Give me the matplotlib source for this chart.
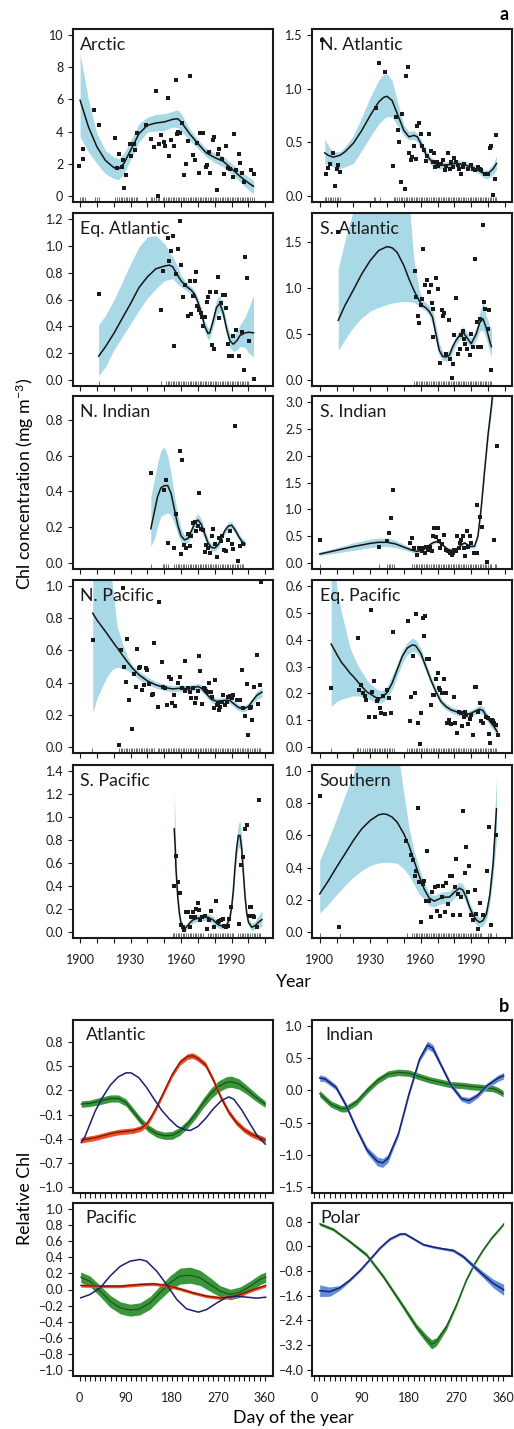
import numpy as np
import matplotlib
matplotlib.use("Agg")
import matplotlib.pyplot as plt

plt.rcParams['font.family'] = ['Lato', 'DejaVu Sans']
plt.rcParams['mathtext.default'] = 'regular'
plt.rcParams['axes.unicode_minus'] = True

# ---------------- Panel a data ----------------
ARC_YR = [1900, 1905, 1910, 1915, 1920, 1923, 1926, 1930, 1935, 1940, 1945, 1950, 1955, 1958, 1960, 1965, 1970, 1975, 1980, 1985, 1990, 1995, 2000, 2003]
ARC_FIT = [5.95, 4.28, 3.04, 2.20, 1.75, 1.68, 2.00, 2.83, 3.87, 4.39, 4.53, 4.60, 4.76, 4.80, 4.60, 3.87, 3.24, 2.66, 2.37, 2.14, 1.68, 1.20, 0.79, 0.58]
ARC_HI = [8.86, 5.95, 3.87, 2.83, 2.41, 2.30, 2.62, 3.45, 4.49, 4.90, 5.07, 5.11, 5.26, 5.36, 5.11, 4.18, 3.49, 2.93, 2.66, 2.45, 2.00, 1.54, 1.16, 0.96]
ARC_LO = [3.66, 2.72, 2.00, 1.37, 1.06, 1.00, 1.37, 2.25, 3.35, 3.97, 4.03, 4.07, 4.28, 4.24, 4.03, 3.45, 2.93, 2.41, 2.06, 1.79, 1.37, 0.85, 0.37, 0.12]
ARC_PX = [1899.4, 1901.6, 1902, 1908.5, 1911.2, 1920.7, 1921.7, 1923.2, 1924.6, 1925.2, 1926, 1927.2, 1929.5, 1930.5, 1931.9, 1932.9, 1934, 1939.4, 1942.3, 1943.9, 1944.9, 1946.3, 1946.9, 1948.3, 1949.8, 1950.6, 1952.2, 1952.8, 1954.2, 1955.5, 1956.7, 1957.5, 1958.3, 1959.2, 1960.7, 1962, 1963, 1964.2, 1965.4, 1967, 1968.5, 1969.5, 1970.9, 1971.5, 1972.9, 1974.5, 1975.4, 1976.4, 1977.4, 1978.8, 1979.8, 1981.2, 1981.7, 1982.7, 1984.3, 1985.7, 1986.7, 1987.6, 1989.2, 1990.6, 1991.6, 1992.6, 1994.2, 1994.9, 1996.1, 1997.5, 2001.8, 2003]
ARC_PY = [1.83, 2.31, 2.93, 5.32, 4.39, 3.62, 1.75, 2.58, 1.79, 2.25, 0.5, 1.27, 3.2, 2.45, 3.2, 2.87, 3.93, 4.39, 3.56, 3.04, 6.5, 0.0, 3.2, 3.8, 3.35, 3.08, 6.11, 2.49, 3.45, 3.12, 7.19, 3.85, 3.95, 3.90, 4.55, 1.27, 2.0, 3.39, 7.48, 2.56, 2.2, 3.3, 1.43, 3.93, 3.93, 1.79, 1.93, 2.72, 1.43, 3.49, 3.66, 0.37, 2.58, 2.93, 2.31, 1.33, 3.1, 1.75, 1.68, 1.16, 3.87, 1.62, 2.58, 2.06, 1.41, 0.85, 1.62, 1.37]
ARC_RUG = [1900, 1901, 1902, 1903, 1909, 1910, 1911] + list(range(1921, 1935)) + [1939] + list(range(1942, 1948)) + list(range(1949, 2004))

NAT_YR = [1903, 1905, 1908, 1912, 1915, 1920, 1925, 1930, 1935, 1938, 1940, 1943, 1946, 1950, 1953, 1956, 1958, 1960, 1963, 1966, 1970, 1975, 1980, 1985, 1990, 1995, 1998, 2000, 2003, 2005]
NAT_FIT = [0.40, 0.377, 0.36, 0.377, 0.41, 0.49, 0.61, 0.75, 0.876, 0.92, 0.93, 0.89, 0.77, 0.61, 0.55, 0.564, 0.55, 0.49, 0.39, 0.33, 0.284, 0.284, 0.30, 0.293, 0.268, 0.23, 0.20, 0.206, 0.25, 0.30]
NAT_HI = [0.533, 0.47, 0.41, 0.41, 0.455, 0.564, 0.736, 0.92, 1.08, 1.135, 1.14, 1.08, 0.89, 0.66, 0.60, 0.61, 0.58, 0.533, 0.43, 0.36, 0.32, 0.315, 0.33, 0.325, 0.30, 0.27, 0.24, 0.243, 0.30, 0.37]
NAT_LO = [0.30, 0.29, 0.27, 0.25, 0.27, 0.30, 0.424, 0.55, 0.67, 0.72, 0.74, 0.736, 0.66, 0.564, 0.52, 0.525, 0.50, 0.44, 0.355, 0.29, 0.25, 0.25, 0.27, 0.26, 0.24, 0.20, 0.16, 0.16, 0.20, 0.24]
NAT_PX = [1901.6, 1903.5, 1905, 1906, 1908, 1909, 1910, 1911, 1912, 1933.7, 1935, 1938.5, 1943.5, 1945.5, 1946.5, 1947, 1948, 1949, 1950.5, 1951, 1952.4, 1953, 1954, 1955, 1956, 1957, 1958, 1959, 1960, 1961, 1962, 1963, 1964, 1965, 1966, 1967, 1968, 1968.6, 1969.5, 1970.5, 1972, 1973, 1974.5, 1975.3, 1976.3, 1977.3, 1978, 1979, 1980, 1981, 1982, 1983, 1984, 1985, 1986, 1988, 1990, 1991, 1992.5, 1994, 1995, 1996, 1998, 2000, 2001, 2002, 2003, 2004, 2005]
NAT_PY = [1.46, 0.2, 0.26, 0.30, 0.40, 0.09, 0.25, 0.29, 0.22, 0.82, 1.24, 1.16, 0.28, 0.74, 0.61, 0.50, 0.13, 0.76, 0.065, 1.12, 1.20, 0.40, 0.33, 0.36, 0.46, 0.34, 0.65, 0.68, 0.58, 0.46, 0.43, 0.32, 0.37, 0.58, 0.42, 0.31, 0.40, 0.27, 0.31, 0.28, 0.30, 0.33, 0.24, 0.28, 0.40, 0.25, 0.31, 0.27, 0.35, 0.31, 0.29, 0.25, 0.20, 0.27, 0.30, 0.25, 0.29, 0.25, 0.24, 0.27, 0.25, 0.24, 0.20, 0.20, 0.45, 0.46, 0.01, 0.16, 0.57]
NAT_RUG = list(range(1903, 1913)) + [1932, 1933, 1936] + list(range(1944, 2006))

EQA_YR = [1911, 1915, 1920, 1925, 1930, 1935, 1940, 1945, 1950, 1953, 1955, 1958, 1960, 1963, 1966, 1968, 1970, 1972, 1974, 1976, 1977, 1979, 1981, 1983, 1985, 1987, 1989, 1991, 1993, 1995, 1998, 2000, 2003]
EQA_FIT = [0.175, 0.245, 0.345, 0.458, 0.57, 0.69, 0.77, 0.83, 0.85, 0.858, 0.845, 0.78, 0.74, 0.70, 0.67, 0.64, 0.58, 0.50, 0.40, 0.345, 0.35, 0.44, 0.54, 0.57, 0.50, 0.38, 0.29, 0.265, 0.29, 0.33, 0.35, 0.355, 0.35]
EQA_HI = [0.41, 0.48, 0.595, 0.73, 0.87, 0.995, 1.07, 1.08, 1.02, 0.96, 0.92, 0.845, 0.78, 0.73, 0.695, 0.67, 0.61, 0.54, 0.44, 0.39, 0.39, 0.49, 0.60, 0.63, 0.55, 0.43, 0.34, 0.32, 0.36, 0.41, 0.47, 0.53, 0.63]
EQA_LO = [0.03, 0.095, 0.22, 0.32, 0.42, 0.52, 0.61, 0.68, 0.74, 0.75, 0.757, 0.715, 0.695, 0.67, 0.64, 0.61, 0.54, 0.46, 0.36, 0.30, 0.31, 0.39, 0.48, 0.51, 0.45, 0.33, 0.24, 0.21, 0.22, 0.25, 0.24, 0.20, 0.17]
EQA_PX = [1911.2, 1948.3, 1949.2, 1952.2, 1952.8, 1954, 1955.2, 1955.7, 1956.7, 1958.1, 1959.3, 1960, 1960.9, 1962.4, 1963.8, 1965, 1965.8, 1967, 1968, 1968.7, 1969.7, 1970.7, 1971.7, 1972.3, 1973, 1973.9, 1975.2, 1975.8, 1977, 1978.2, 1979.8, 1981, 1981.7, 1982.7, 1983.5, 1984.7, 1985.9, 1986.9, 1987.7, 1988.6, 1990, 1990.6, 1992.6, 1994.5, 1996.1, 1997.5, 1997.9, 1998.9, 2000.3, 2003]
EQA_PY = [0.64, 0.52, 0.815, 1.06, 0.89, 0.96, 1.075, 0.255, 0.79, 0.98, 1.19, 0.855, 0.62, 0.705, 0.48, 0.74, 0.495, 0.625, 0.74, 0.805, 0.555, 0.525, 0.50, 0.47, 0.40, 0.468, 0.58, 0.62, 0.655, 0.258, 0.232, 0.655, 0.765, 0.463, 0.575, 0.63, 0.63, 0.535, 0.27, 0.175, 0.175, 0.33, 0.368, 0.175, 0.358, 0.07, 0.915, 0.758, 0.288, 0.008]
EQA_RUG = [1911, 1948] + list(range(1951, 2001))

SAT_YR = [1911, 1915, 1920, 1925, 1930, 1935, 1940, 1943, 1946, 1950, 1953, 1956, 1959, 1961, 1963, 1965, 1967, 1969, 1971, 1973, 1975, 1977, 1979, 1981, 1983, 1985, 1987, 1990, 1993, 1995, 1997, 1999, 2001, 2002]
SAT_FIT = [0.647, 0.81, 0.98, 1.155, 1.30, 1.41, 1.453, 1.44, 1.39, 1.246, 1.10, 0.973, 0.865, 0.81, 0.785, 0.748, 0.683, 0.50, 0.32, 0.254, 0.247, 0.265, 0.36, 0.43, 0.48, 0.52, 0.47, 0.392, 0.50, 0.62, 0.665, 0.56, 0.42, 0.36]
SAT_HI = [1.21, 1.52, 1.85, 2.3, 2.6, 2.8, 2.9, 2.8, 2.6, 2.3, 1.95, 1.30, 0.99, 0.88, 0.84, 0.81, 0.77, 0.60, 0.40, 0.31, 0.30, 0.32, 0.40, 0.48, 0.53, 0.58, 0.53, 0.45, 0.57, 0.72, 0.865, 0.70, 0.58, 0.57]
SAT_LO = [0.32, 0.436, 0.574, 0.676, 0.748, 0.79, 0.82, 0.835, 0.846, 0.854, 0.85, 0.846, 0.80, 0.774, 0.748, 0.70, 0.60, 0.40, 0.265, 0.21, 0.203, 0.22, 0.30, 0.38, 0.43, 0.465, 0.41, 0.34, 0.43, 0.53, 0.54, 0.44, 0.30, 0.25]
SAT_PX = [1911, 1956.4, 1957.1, 1958.3, 1959.1, 1960, 1961, 1961.4, 1962.6, 1964, 1965, 1966, 1966.5, 1967, 1967.5, 1969, 1970, 1971.4, 1972.4, 1973.2, 1973.8, 1975.3, 1976.7, 1977.3, 1978.3, 1979.3, 1980, 1981.2, 1982.2, 1983.2, 1984.1, 1985.1, 1985.7, 1986.5, 1987.7, 1989, 1990, 1991, 1992.4, 1993.3, 1994.3, 1995.3, 1995.9, 1996.9, 1997.5, 1998.2, 1999.8, 2000.8, 2001.8]
SAT_PY = [1.61, 1.19, 0.90, 0.70, 0.617, 0.81, 0.883, 1.43, 1.028, 1.09, 0.955, 1.028, 0.835, 0.465, 0.774, 1.11, 0.99, 0.18, 0.755, 0.69, 0.726, 0.276, 0.647, 0.229, 0.022, 0.174, 0.483, 0.894, 0.283, 0.338, 0.483, 0.53, 0.447, 0.392, 0.338, 0.265, 0.50, 0.356, 1.32, 0.628, 0.356, 0.665, 0.356, 1.69, 0.846, 0.774, 0.556, 0.763, 0.109]
SAT_RUG = list(range(1956, 2003))

NIN_YR = [1942, 1944, 1946, 1948, 1950, 1952, 1954, 1956, 1958, 1960, 1962, 1964, 1966, 1968, 1970, 1972, 1974, 1976, 1978, 1980, 1982, 1984, 1986, 1988, 1990, 1992, 1994, 1996, 1998]
NIN_FIT = [0.19, 0.28, 0.37, 0.42, 0.432, 0.433, 0.39, 0.30, 0.21, 0.15, 0.128, 0.135, 0.175, 0.22, 0.24, 0.215, 0.16, 0.11, 0.085, 0.082, 0.10, 0.14, 0.18, 0.205, 0.21, 0.185, 0.15, 0.12, 0.105]
NIN_HI = [0.37, 0.46, 0.56, 0.63, 0.65, 0.60, 0.50, 0.38, 0.27, 0.19, 0.155, 0.16, 0.20, 0.25, 0.275, 0.245, 0.19, 0.135, 0.105, 0.10, 0.12, 0.16, 0.20, 0.225, 0.23, 0.205, 0.17, 0.14, 0.125]
NIN_LO = [0.09, 0.13, 0.20, 0.26, 0.27, 0.28, 0.27, 0.22, 0.16, 0.115, 0.105, 0.11, 0.15, 0.19, 0.205, 0.185, 0.135, 0.09, 0.065, 0.065, 0.08, 0.12, 0.16, 0.185, 0.19, 0.165, 0.13, 0.10, 0.085]
NIN_PX = [1942.3, 1949.8, 1950.8, 1952.2, 1955.5, 1956.7, 1959.1, 1959.7, 1960.7, 1962, 1963, 1964, 1965, 1966, 1967, 1968, 1968.9, 1969.9, 1970.9, 1971.9, 1972.9, 1973.9, 1974.8, 1975.8, 1977.2, 1978.4, 1978.8, 1980.4, 1981.3, 1982.3, 1983.7, 1984.3, 1985.7, 1986.7, 1988, 1989, 1990, 1990.6, 1992, 1994, 1995, 1997]
NIN_PY = [0.504, 0.41, 0.466, 0.11, 0.082, 0.275, 0.626, 0.05, 0.579, 0.10, 0.082, 0.161, 0.092, 0.148, 0.223, 0.227, 0.176, 0.204, 0.392, 0.189, 0.185, 0.058, 0.10, 0.082, 0.054, 0.152, 0.189, 0.107, 0.032, 0.139, 0.12, 0.148, 0.073, 0.064, 0.129, 0.176, 0.107, 0.077, 0.766, 0.011, 0.092, 0.107]
NIN_RUG = [1942, 1949, 1950, 1951, 1952] + list(range(1956, 1998))

SIN_YR = [1900, 1910, 1920, 1930, 1935, 1940, 1945, 1950, 1955, 1958, 1961, 1964, 1967, 1970, 1973, 1976, 1979, 1982, 1984, 1986, 1988, 1990, 1992, 1994, 1996, 1998, 2000, 2002, 2004]
SIN_FIT = [0.16, 0.23, 0.30, 0.36, 0.38, 0.38, 0.35, 0.29, 0.23, 0.21, 0.24, 0.30, 0.37, 0.40, 0.33, 0.25, 0.22, 0.27, 0.33, 0.37, 0.33, 0.30, 0.31, 0.50, 1.05, 1.74, 2.40, 2.93, 3.6]
SIN_HI = [0.20, 0.28, 0.37, 0.44, 0.46, 0.46, 0.42, 0.34, 0.27, 0.25, 0.27, 0.33, 0.40, 0.43, 0.36, 0.28, 0.25, 0.30, 0.36, 0.40, 0.36, 0.33, 0.35, 0.56, 1.12, 1.82, 2.5, 3.05, 3.8]
SIN_LO = [0.13, 0.18, 0.23, 0.28, 0.30, 0.30, 0.28, 0.24, 0.19, 0.17, 0.21, 0.27, 0.34, 0.37, 0.30, 0.22, 0.19, 0.24, 0.30, 0.34, 0.30, 0.27, 0.27, 0.44, 0.98, 1.66, 2.30, 2.81, 3.4]
SIN_PX = [1900, 1935.2, 1940.1, 1941.2, 1942.5, 1943.7, 1953.8, 1954.8, 1955.8, 1957.7, 1959, 1960.5, 1961.5, 1962.4, 1963.4, 1964.4, 1965.4, 1966.5, 1967.5, 1968, 1968.9, 1970, 1970.8, 1971.6, 1972.4, 1973.8, 1975, 1976, 1977.3, 1978.3, 1979.3, 1979.9, 1980.7, 1981.6, 1982.6, 1983.6, 1984.1, 1985.1, 1985.7, 1986.5, 1987.5, 1988, 1989, 1990, 1991.6, 1993.5, 1993.7, 1995.1, 1996.3, 1999.4, 2003.3, 2005.6]
SIN_PY = [0.43, 0.29, 0.40, 0.555, 0.836, 1.366, 0.368, 0.46, 0.27, 0.15, 0.27, 0.21, 0.27, 0.18, 0.30, 0.24, 0.29, 0.21, 0.49, 0.65, 0.48, 0.65, 0.40, 0.27, 0.34, 0.52, 0.24, 0.21, 0.18, 0.15, 0.18, 0.24, 0.21, 0.49, 0.27, 0.37, 0.43, 0.49, 0.27, 0.13, 0.586, 0.30, 0.49, 0.37, 0.18, 0.18, 1.08, 0.86, 0.67, 0.02, 0.43, 2.19]
SIN_RUG = [1900, 1935, 1940, 1941, 1942, 1943, 1944] + list(range(1955, 2003)) + [2004, 2005]

NPA_YR = [1907.5, 1910, 1913, 1916, 1919, 1922, 1925, 1928, 1931, 1935, 1940, 1945, 1950, 1955, 1960, 1963, 1966, 1970, 1972, 1975, 1978, 1981, 1984, 1987, 1989, 1991, 1994, 1997, 2000, 2002, 2005, 2008]
NPA_FIT = [0.833, 0.79, 0.748, 0.705, 0.66, 0.617, 0.573, 0.53, 0.49, 0.448, 0.41, 0.385, 0.369, 0.36, 0.365, 0.362, 0.365, 0.375, 0.365, 0.33, 0.295, 0.283, 0.285, 0.29, 0.288, 0.27, 0.245, 0.235, 0.25, 0.28, 0.32, 0.34]
NPA_HI = [1.6, 1.5, 1.35, 1.2, 1.03, 0.75, 0.65, 0.565, 0.51, 0.47, 0.435, 0.405, 0.39, 0.38, 0.385, 0.382, 0.385, 0.395, 0.385, 0.35, 0.315, 0.303, 0.305, 0.31, 0.308, 0.29, 0.265, 0.255, 0.27, 0.30, 0.345, 0.37]
NPA_LO = [0.2125, 0.30, 0.37, 0.4375, 0.48, 0.495, 0.49, 0.475, 0.455, 0.42, 0.385, 0.365, 0.35, 0.34, 0.345, 0.342, 0.345, 0.355, 0.345, 0.31, 0.275, 0.263, 0.265, 0.27, 0.268, 0.25, 0.225, 0.215, 0.23, 0.26, 0.295, 0.31]
NPA_PX = [1907.5, 1923.2, 1924.2, 1925.2, 1926.2, 1927.2, 1928, 1929.2, 1931.1, 1932.1, 1933.1, 1933.9, 1935, 1935.8, 1937, 1938, 1939, 1940, 1941, 1942.5, 1943.3, 1943.9, 1946.3, 1946.9, 1948.8, 1949.2, 1950.6, 1951.8, 1952.8, 1953.8, 1954.8, 1955.7, 1956.1, 1958.1, 1959.1, 1960.5, 1962.4, 1962.6, 1964, 1965, 1966, 1967, 1968, 1969, 1970, 1970.9, 1971.5, 1972.3, 1973.5, 1974.3, 1974.9, 1975.9, 1976.8, 1977.8, 1978.4, 1979.4, 1980.4, 1981.2, 1982, 1982.7, 1983.3, 1984.3, 1985.1, 1986.3, 1987, 1988, 1989, 1990, 1991, 1993, 1994, 1995, 1996, 1996.9, 1997.9, 1998.9, 1999.9, 2000.8, 2001.4, 2002.4, 2003.4, 2004.8, 2005.8, 2006.8, 2007.7]
NPA_PY = [0.667, 0.01, 0.60, 0.988, 0.496, 0.402, 0.671, 0.292, 0.108, 0.452, 0.371, 0.608, 0.49, 0.50, 0.354, 0.385, 0.49, 0.479, 0.392, 0.323, 0.327, 0.646, 0.25, 0.902, 0.531, 0.369, 0.365, 0.26, 0.433, 0.421, 0.271, 0.323, 0.254, 0.396, 0.433, 0.365, 0.35, 0.535, 0.365, 0.338, 0.302, 0.365, 0.275, 0.302, 0.344, 0.567, 0.469, 0.267, 0.365, 0.358, 0.35, 0.340, 0.40, 0.338, 0.308, 0.24, 0.417, 0.26, 0.271, 0.229, 0.25, 0.281, 0.323, 0.26, 0.281, 0.308, 0.313, 0.302, 0.323, 0.292, 0.288, 0.292, 0.479, 0.24, 0.194, 0.39, 0.073, 0.244, 0.25, 0.167, 0.371, 0.573, 0.265, 0.385, 1.03]
NPA_RUG = [1907] + list(range(1923, 1945)) + list(range(1946, 2008))

EQP_YR = [1906.8, 1910, 1913, 1915, 1918, 1920, 1923, 1925, 1928, 1930, 1933, 1935, 1937, 1940, 1943, 1946, 1949, 1952, 1955, 1957, 1960, 1963, 1966, 1969, 1972, 1975, 1978, 1981, 1984, 1987, 1990, 1993, 1995, 1997, 1999, 2001, 2003, 2005.5]
EQP_FIT = [0.384, 0.3475, 0.315, 0.30, 0.275, 0.2625, 0.24, 0.225, 0.205, 0.1975, 0.185, 0.181, 0.184, 0.2025, 0.2375, 0.2875, 0.3375, 0.369, 0.381, 0.378, 0.35, 0.30, 0.25, 0.206, 0.169, 0.15, 0.1375, 0.131, 0.125, 0.12, 0.125, 0.135, 0.14, 0.135, 0.115, 0.095, 0.08, 0.055]
EQP_HI = [0.9, 0.6, 0.50, 0.45, 0.37, 0.34, 0.30, 0.28, 0.25, 0.235, 0.22, 0.212, 0.21, 0.225, 0.265, 0.31, 0.36, 0.39, 0.406, 0.40, 0.369, 0.318, 0.266, 0.22, 0.182, 0.162, 0.149, 0.143, 0.137, 0.132, 0.137, 0.148, 0.155, 0.15, 0.13, 0.11, 0.097, 0.075]
EQP_LO = [0.15, 0.169, 0.178, 0.181, 0.187, 0.19, 0.189, 0.1875, 0.181, 0.175, 0.167, 0.1625, 0.165, 0.181, 0.213, 0.262, 0.312, 0.344, 0.356, 0.355, 0.33, 0.282, 0.234, 0.192, 0.156, 0.138, 0.126, 0.119, 0.113, 0.108, 0.113, 0.122, 0.125, 0.12, 0.10, 0.08, 0.063, 0.035]
EQP_PX = [1906.5, 1922.5, 1923.5, 1924.5, 1925.8, 1926.8, 1927.4, 1929.4, 1930.3, 1931.3, 1932.3, 1932.9, 1933.9, 1934.7, 1935.6, 1936.6, 1937.6, 1938.6, 1940.1, 1941.1, 1942.5, 1943.6, 1952.4, 1953.8, 1954.4, 1955.4, 1956.4, 1957.1, 1958.3, 1959.5, 1960.3, 1961.1, 1962.2, 1962.6, 1963.6, 1965, 1966.1, 1967.1, 1968.1, 1969.1, 1970, 1970.8, 1971.4, 1972.4, 1973.8, 1974.8, 1975.7, 1976.7, 1977.9, 1979.6, 1980.6, 1981.8, 1982.8, 1983.8, 1984.5, 1985.5, 1986.1, 1987.1, 1988, 1989, 1990, 1991, 1992, 1993, 1994, 1995, 1996, 1997, 1998.8, 1999.8, 2000.8, 2001.4, 2002.2, 2003.1, 2003.7, 2004.7, 2005.7]
EQP_PY = [0.219, 0.406, 0.2125, 0.231, 0.20, 0.19, 0.175, 0.1125, 0.51, 0.206, 0.244, 0.1125, 0.1725, 0.178, 0.144, 0.1275, 0.19, 0.1225, 0.2125, 0.181, 0.125, 0.431, 0.471, 0.094, 0.185, 0.34, 0.2025, 0.496, 0.09, 0.01, 0.125, 0.481, 0.4125, 0.4875, 0.3275, 0.3275, 0.156, 0.194, 0.194, 0.2525, 0.2775, 0.219, 0.2125, 0.2025, 0.2525, 0.2025, 0.09, 0.10, 0.085, 0.185, 0.0875, 0.05, 0.131, 0.125, 0.0775, 0.1125, 0.131, 0.119, 0.085, 0.1025, 0.119, 0.044, 0.225, 0.225, 0.131, 0.1625, 0.0975, 0.088, 0.1125, 0.106, 0.0475, 0.0125, 0.10, 0.094, 0.088, 0.081, 0.044]
EQP_RUG = [1907, 1922, 1923, 1924] + list(range(1926, 1945)) + list(range(1952, 2006))

SPA_YR = [1955.9, 1956.5, 1957, 1958, 1959, 1960, 1961, 1962, 1963, 1965, 1967, 1970, 1973, 1976, 1979, 1982, 1985, 1987, 1989, 1990, 1991, 1992, 1993, 1994, 1995, 1996, 1997, 1998, 1999, 2000, 2002, 2004, 2006, 2008]
SPA_FIT = [0.898, 0.738, 0.534, 0.30, 0.155, 0.067, 0.038, 0.023, 0.038, 0.073, 0.102, 0.117, 0.125, 0.125, 0.102, 0.061, 0.044, 0.0525, 0.125, 0.213, 0.359, 0.563, 0.732, 0.84, 0.84, 0.723, 0.505, 0.30, 0.155, 0.082, 0.038, 0.0525, 0.082, 0.105]
SPA_HI = [1.25, 0.94, 0.65, 0.373, 0.198, 0.102, 0.067, 0.05, 0.061, 0.102, 0.14, 0.146, 0.155, 0.155, 0.135, 0.085, 0.067, 0.075, 0.155, 0.248, 0.417, 0.621, 0.82, 0.942, 0.97, 0.84, 0.59, 0.344, 0.19, 0.11, 0.073, 0.09, 0.14, 0.184]
SPA_LO = [0.563, 0.534, 0.417, 0.227, 0.11, 0.038, 0.009, 0.0, 0.015, 0.05, 0.073, 0.09, 0.096, 0.096, 0.067, 0.032, 0.02, 0.03, 0.096, 0.178, 0.30, 0.49, 0.65, 0.738, 0.723, 0.607, 0.417, 0.248, 0.12, 0.0525, 0.009, 0.023, 0.038, 0.044]
SPA_PX = [1955.5, 1956.7, 1958.1, 1959.3, 1960, 1961, 1962, 1963, 1964, 1965, 1966, 1967, 1968, 1968.9, 1969.9, 1970.9, 1971.5, 1972.5, 1973.9, 1975.2, 1976.8, 1978, 1979.8, 1980.8, 1981.7, 1982.7, 1983.7, 1984.7, 1985.7, 1986.7, 1987.6, 1988.6, 1989.6, 1994.5, 1995.5, 1996.9, 1997.9, 1998.9, 2000.1, 2000.8, 2001.8, 2002.8, 2003.4, 2004.8, 2006.4]
SPA_PY = [0.40, 0.665, 0.43, 0.335, 0.061, 0.038, 0.015, 0.175, 0.175, 0.038, 0.125, 0.169, 0.131, 0.198, 0.248, 0.19, 0.102, 0.131, 0.134, 0.023, 0.102, 0.184, 0.044, 0.271, 0.082, 0.096, 0.102, 0.111, 0.0525, 0.038, 0.047, 0.111, 0.213, 0.067, 0.583, 0.65, 0.898, 0.933, 0.14, 0.219, 0.219, 0.14, 0.125, 0.038, 1.146]
SPA_RUG = list(range(1955, 1974)) + list(range(1976, 1992)) + list(range(1994, 2008))

SOU_YR = [1900, 1905, 1910, 1915, 1920, 1925, 1930, 1935, 1938, 1940, 1943, 1946, 1950, 1953, 1956, 1959, 1962, 1965, 1968, 1971, 1974, 1977, 1980, 1983, 1985, 1987, 1989, 1991, 1993, 1995, 1997, 1999, 2001, 2003, 2005]
SOU_FIT = [0.235, 0.315, 0.402, 0.485, 0.569, 0.642, 0.694, 0.729, 0.735, 0.731, 0.715, 0.683, 0.61, 0.5375, 0.444, 0.35, 0.267, 0.21, 0.19, 0.204, 0.215, 0.215, 0.246, 0.271, 0.26, 0.215, 0.152, 0.106, 0.073, 0.058, 0.069, 0.11, 0.225, 0.423, 0.767]
SOU_HI = [0.444, 0.569, 0.704, 0.85, 0.985, 1.2, 1.4, 1.5, 1.5, 1.45, 1.35, 1.15, 0.86, 0.652, 0.506, 0.402, 0.308, 0.24, 0.225, 0.24, 0.25, 0.252, 0.281, 0.308, 0.296, 0.252, 0.183, 0.135, 0.106, 0.09, 0.10, 0.152, 0.277, 0.517, 0.965]
SOU_LO = [0.115, 0.169, 0.231, 0.2875, 0.34, 0.381, 0.4125, 0.429, 0.432, 0.433, 0.43, 0.427, 0.392, 0.35, 0.294, 0.235, 0.204, 0.1625, 0.152, 0.169, 0.177, 0.177, 0.21, 0.235, 0.225, 0.177, 0.115, 0.073, 0.044, 0.027, 0.035, 0.069, 0.173, 0.34, 0.569]
SOU_PX = [1900, 1911.7, 1951.3, 1954.4, 1955.4, 1956.4, 1957.1, 1958.1, 1959.1, 1960.1, 1961.1, 1962, 1963, 1964, 1965.2, 1966.1, 1966.9, 1968.5, 1969.5, 1970.5, 1971.4, 1972.4, 1973.4, 1974.4, 1975.3, 1976.3, 1977.3, 1978.3, 1979.3, 1980.2, 1981.2, 1982.2, 1983.2, 1984.1, 1985.1, 1986.1, 1987.1, 1988, 1988.6, 1990, 1991, 1992, 1993, 1993.9, 1995.5, 1996.9, 1999.4, 2000.8, 2001.8, 2004.7]
SOU_PY = [0.844, 0.027, 0.5625, 0.479, 0.444, 0.35, 0.381, 0.773, 0.308, 0.0625, 0.294, 0.315, 0.194, 0.506, 0.194, 0.094, 0.246, 0.281, 0.131, 0.2875, 0.10, 0.215, 0.2875, 0.121, 0.302, 0.173, 0.344, 0.35, 0.106, 0.281, 0.454, 0.235, 0.106, 0.219, 0.75, 0.365, 0.531, 0.25, 0.408, 0.106, 0.073, 0.2625, 0.11, 0.017, 0.177, 0.106, 0.381, 0.656, 0.042, 0.604]
SOU_RUG = [1900, 1912, 1952] + list(range(1955, 1997)) + [2000, 2001, 2002, 2005]

# y-axis tops and tick labels for panel a
A_TITLES = ["Arctic", "N. Atlantic", "Eq. Atlantic", "S. Atlantic", "N. Indian",
            "S. Indian", "N. Pacific", "Eq. Pacific", "S. Pacific", "Southern"]
A_YMAX = [10, 1.5, 1.2, 1.75, 0.9, 3.0, 1.0, 0.6, 1.4, 1.0]
A_YTICKS = [
    ["0", "2", "4", "6", "8", "10"],
    ["0.0", "0.5", "1.0", "1.5"],
    ["0.0", "0.2", "0.4", "0.6", "0.8", "1.0", "1.2"],
    ["0.0", "0.5", "1.0", "1.5"],
    ["0.0", "0.2", "0.4", "0.6", "0.8"],
    ["0.0", "0.5", "1.0", "1.5", "2.0", "2.5", "3.0"],
    ["0.0", "0.2", "0.4", "0.6", "0.8", "1.0"],
    ["0.0", "0.1", "0.2", "0.3", "0.4", "0.5", "0.6"],
    ["0.0", "0.2", "0.4", "0.6", "0.8", "1.0", "1.2", "1.4"],
    ["0.0", "0.2", "0.4", "0.6", "0.8", "1.0"],
]
YEAR_TICKS = [1900, 1910, 1920, 1930, 1940, 1950, 1960, 1970, 1980, 1990, 2000, 2010]
YEAR_LABELS = ["1900", "", "", "1930", "", "", "1960", "", "", "1990", "", ""]

# ---------------- Panel b data ----------------
ATL_DAY = [3, 10, 20, 30, 45, 60, 75, 90, 100, 115, 130, 145, 160, 175, 190, 205, 215, 230, 245, 260, 275, 290, 300, 315, 330, 345, 361]
ATL_NAVY = [-0.45, -0.38, -0.22, -0.06, 0.12, 0.27, 0.37, 0.42, 0.42, 0.36, 0.24, 0.09, -0.05, -0.16, -0.25, -0.29, -0.30, -0.25, -0.15, -0.03, 0.07, 0.12, 0.09, -0.04, -0.20, -0.36, -0.47]
ATL_GDAY = [3, 20, 40, 60, 75, 90, 105, 120, 135, 150, 165, 180, 195, 210, 225, 240, 255, 270, 285, 295, 310, 325, 340, 350, 361]
ATL_GREEN = [0.03, 0.04, 0.07, 0.10, 0.10, 0.05, -0.07, -0.19, -0.28, -0.34, -0.365, -0.36, -0.31, -0.22, -0.10, 0.04, 0.16, 0.25, 0.30, 0.31, 0.28, 0.21, 0.13, 0.08, 0.03]
ATL_GREEN_HW = [0.04, 0.04, 0.045, 0.045, 0.045, 0.045, 0.045, 0.045, 0.045, 0.045, 0.045, 0.05, 0.05, 0.05, 0.055, 0.06, 0.065, 0.07, 0.07, 0.07, 0.065, 0.055, 0.05, 0.045, 0.04]
ATL_RDAY = [3, 30, 60, 75, 90, 105, 120, 130, 140, 150, 165, 180, 195, 210, 220, 230, 245, 260, 275, 290, 305, 320, 335, 350, 361]
ATL_RED = [-0.42, -0.39, -0.34, -0.32, -0.31, -0.30, -0.27, -0.22, -0.12, 0.0, 0.20, 0.40, 0.55, 0.625, 0.635, 0.60, 0.52, 0.33, 0.11, -0.07, -0.20, -0.29, -0.35, -0.39, -0.42]

IND_NDAY = [11, 21, 42, 61, 81, 101, 121, 131, 141, 161, 181, 201, 216, 226, 241, 261, 281, 295, 311, 330, 351, 361]
IND_NAVY = [0.195, 0.18, 0.05, -0.23, -0.60, -0.93, -1.11, -1.13, -1.06, -0.67, -0.05, 0.49, 0.71, 0.66, 0.41, 0.08, -0.13, -0.16, -0.08, 0.08, 0.195, 0.23]
IND_NAVY_HW = [0.05, 0.045, 0.04, 0.04, 0.04, 0.05, 0.07, 0.07, 0.06, 0.04, 0.04, 0.04, 0.06, 0.06, 0.04, 0.04, 0.04, 0.05, 0.04, 0.04, 0.05, 0.05]
IND_GDAY = [11, 32, 52, 61, 81, 101, 121, 141, 161, 181, 201, 221, 241, 261, 281, 301, 321, 341, 350, 360]
IND_GREEN = [-0.05, -0.21, -0.285, -0.285, -0.18, 0.0, 0.155, 0.257, 0.283, 0.27, 0.216, 0.164, 0.128, 0.09, 0.08, 0.06, 0.045, 0.03, 0.0, -0.05]

PAC_NDAY = [2, 20, 40, 59, 79, 98, 117, 130, 150, 169, 189, 208, 231, 247, 267, 286, 306, 325, 345, 362]
PAC_NAVY = [-0.104, -0.0625, 0.021, 0.167, 0.29, 0.354, 0.375, 0.354, 0.229, 0.0625, -0.125, -0.242, -0.283, -0.25, -0.167, -0.096, -0.083, -0.096, -0.108, -0.096]
PAC_GDAY = [2, 20, 40, 59, 79, 98, 117, 137, 156, 176, 195, 215, 234, 254, 273, 293, 312, 332, 351, 362]
PAC_GREEN = [0.154, 0.104, -0.021, -0.146, -0.229, -0.258, -0.242, -0.167, -0.042, 0.083, 0.167, 0.179, 0.146, 0.0625, -0.021, -0.0625, -0.033, 0.042, 0.125, 0.154]
PAC_GREEN_HW = [0.065, 0.065, 0.07, 0.075, 0.075, 0.075, 0.075, 0.08, 0.085, 0.09, 0.1, 0.1, 0.095, 0.085, 0.07, 0.065, 0.065, 0.065, 0.065, 0.065]
PAC_RDAY = [2, 40, 79, 117, 143, 169, 195, 221, 247, 273, 293, 312, 338, 362]
PAC_RED = [0.05, 0.042, 0.042, 0.0625, 0.071, 0.05, 0.008, -0.042, -0.083, -0.104, -0.096, -0.0625, 0.0, 0.05]

POL_NDAY = [11, 30, 49, 68, 88, 107, 126, 145, 164, 173, 189, 208, 227, 246, 265, 284, 303, 322, 341, 361]
POL_NAVY = [-1.44, -1.47, -1.35, -1.10, -0.78, -0.42, -0.05, 0.24, 0.40, 0.41, 0.25, 0.06, -0.02, -0.08, -0.13, -0.33, -0.63, -0.92, -1.20, -1.41]
POL_NAVY_HW = [0.19, 0.15, 0.08, 0.05, 0.04, 0.04, 0.04, 0.04, 0.04, 0.04, 0.04, 0.04, 0.04, 0.04, 0.05, 0.06, 0.08, 0.10, 0.14, 0.18]
POL_GDAY = [11, 37, 68, 100, 132, 164, 195, 214, 224, 233, 252, 271, 290, 306, 322, 338, 354, 361]
POL_GREEN = [0.73, 0.55, 0.16, -0.27, -0.98, -1.80, -2.61, -3.0, -3.18, -3.1, -2.61, -1.9, -1.09, -0.55, -0.11, 0.27, 0.58, 0.73]
POL_GREEN_HW = [0.05, 0.05, 0.05, 0.06, 0.07, 0.08, 0.1, 0.13, 0.15, 0.13, 0.1, 0.07, 0.05, 0.05, 0.04, 0.04, 0.04, 0.04]

B_TITLES = ["Atlantic", "Indian", "Pacific", "Polar"]
B_YLIM = [(-1.0, 1.0), (-1.5, 1.0), (-1.0, 1.0), (-4.0, 1.2)]
B_YTICKS = [
    ["-1.0", "-0.7", "-0.4", "-0.1", "0.2", "0.5", "0.8"],
    ["-1.5", "-1.0", "-0.5", "0.0", "0.5", "1.0"],
    ["-1.0", "-0.8", "-0.6", "-0.4", "-0.2", "0.0", "0.2", "0.4", "0.6", "0.8", "1.0"],
    ["-4.0", "-3.2", "-2.4", "-1.6", "-0.8", "0.0", "0.8"],
]
DAY_TICKS = list(range(0, 361, 10))
DAY_LABELS = {0: "0", 90: "90", 180: "180", 270: "270", 360: "360"}

# ---------------- styling ----------------
CI_COL = "#a9d8e6"
NAVY = "#1d1f6e"
BLUE_BAND = "#5f8fdc"
GREEN_BAND = "#3a963a"
GREEN_LINE = "#1b4f1b"
RED_BAND = "#ef4f24"
RED_LINE = "#7a1508"

W, H = 514, 1429
fig = plt.figure(figsize=(W / 100, H / 100), dpi=100)


def add_ax(x0, y0, w=200.0, h=173.0):
    return fig.add_axes([x0 / W, 1 - (y0 + h) / H, w / W, h / H])


def style(ax):
    for s in ax.spines.values():
        s.set_linewidth(1.5)
        s.set_color("#1a1a1a")
    ax.tick_params(direction="out", length=3.8, width=0.8, colors="#1a1a1a",
                   labelsize=9, pad=3)
    ax.tick_params(axis="x", pad=8)


def fmt(lbls):
    return [l.replace("-", "\u2212") for l in lbls]


COLS = [72.7, 312.3]
A_ROWS = [29.0, 213.0, 396.0, 580.0, 765.0]
B_ROWS = [1020.0, 1203.0]

panels_a = [
    (ARC_YR, ARC_FIT, ARC_LO, ARC_HI, ARC_PX, ARC_PY, ARC_RUG),
    (NAT_YR, NAT_FIT, NAT_LO, NAT_HI, NAT_PX, NAT_PY, NAT_RUG),
    (EQA_YR, EQA_FIT, EQA_LO, EQA_HI, EQA_PX, EQA_PY, EQA_RUG),
    (SAT_YR, SAT_FIT, SAT_LO, SAT_HI, SAT_PX, SAT_PY, SAT_RUG),
    (NIN_YR, NIN_FIT, NIN_LO, NIN_HI, NIN_PX, NIN_PY, NIN_RUG),
    (SIN_YR, SIN_FIT, SIN_LO, SIN_HI, SIN_PX, SIN_PY, SIN_RUG),
    (NPA_YR, NPA_FIT, NPA_LO, NPA_HI, NPA_PX, NPA_PY, NPA_RUG),
    (EQP_YR, EQP_FIT, EQP_LO, EQP_HI, EQP_PX, EQP_PY, EQP_RUG),
    (SPA_YR, SPA_FIT, SPA_LO, SPA_HI, SPA_PX, SPA_PY, SPA_RUG),
    (SOU_YR, SOU_FIT, SOU_LO, SOU_HI, SOU_PX, SOU_PY, SOU_RUG),
]

for i, (yr, fit, lo, hi, px, py, rug) in enumerate(panels_a):
    r, c = divmod(i, 2)
    ax = add_ax(COLS[c], A_ROWS[r])
    ax.fill_between(yr, lo, hi, color=CI_COL, lw=0, zorder=1)
    ax.plot(yr, fit, color="#151515", lw=1.1, zorder=3, solid_joinstyle="round")
    ax.plot(px, py, "s", ms=2.3, mew=0, color="#1a1a1a", zorder=5)
    ax.vlines(rug, 0, 0.03, transform=ax.get_xaxis_transform(),
              color="#555555", lw=0.6, zorder=2)
    ymax = A_YMAX[i]
    ax.set_ylim(-0.04 * ymax, 1.04 * ymax)
    ax.set_xlim(1900 - 4.4, 2010 + 4.4)
    labels = A_YTICKS[i]
    ax.set_yticks([float(v) for v in labels])
    ax.set_yticklabels(fmt(labels))
    ax.set_xticks(YEAR_TICKS)
    ax.set_xticklabels(YEAR_LABELS if r == 4 else [""] * len(YEAR_TICKS))
    style(ax)
    ax.text(7.5 / 200, 1 - 8 / 173, A_TITLES[i], transform=ax.transAxes,
            ha="left", va="top", fontsize=12.8, color="#1a1a1a", zorder=4)

# ---------------- panel b ----------------
B_XLIMS = [(-13.6, 375.6), (-3.0, 377.5)]
B_TITLE_X = [13, 12.7, 13, 7.7]

for i in range(4):
    r, c = divmod(i, 2)
    ax = add_ax(COLS[c], B_ROWS[r])
    if i == 0:
        g_lo = [v - h for v, h in zip(ATL_GREEN, ATL_GREEN_HW)]
        g_hi = [v + h for v, h in zip(ATL_GREEN, ATL_GREEN_HW)]
        ax.fill_between(ATL_GDAY, g_lo, g_hi, color=GREEN_BAND, lw=0, zorder=1)
        ax.plot(ATL_GDAY, ATL_GREEN, color=GREEN_LINE, lw=0.9, zorder=2)
        ax.fill_between(ATL_RDAY, [v - 0.035 for v in ATL_RED], [v + 0.035 for v in ATL_RED],
                        color=RED_BAND, lw=0, zorder=3)
        ax.plot(ATL_RDAY, ATL_RED, color=RED_LINE, lw=0.9, zorder=4)
        ax.plot(ATL_DAY, ATL_NAVY, color=NAVY, lw=1.1, zorder=5)
    elif i == 1:
        ax.fill_between(IND_GDAY, [v - 0.05 for v in IND_GREEN], [v + 0.05 for v in IND_GREEN],
                        color=GREEN_BAND, lw=0, zorder=1)
        ax.plot(IND_GDAY, IND_GREEN, color=GREEN_LINE, lw=0.8, zorder=2)
        n_lo = [v - h for v, h in zip(IND_NAVY, IND_NAVY_HW)]
        n_hi = [v + h for v, h in zip(IND_NAVY, IND_NAVY_HW)]
        ax.fill_between(IND_NDAY, n_lo, n_hi, color=BLUE_BAND, lw=0, zorder=3)
        ax.plot(IND_NDAY, IND_NAVY, color=NAVY, lw=1.1, zorder=4)
    elif i == 2:
        g_lo = [v - h for v, h in zip(PAC_GREEN, PAC_GREEN_HW)]
        g_hi = [v + h for v, h in zip(PAC_GREEN, PAC_GREEN_HW)]
        ax.fill_between(PAC_GDAY, g_lo, g_hi, color=GREEN_BAND, lw=0, zorder=1)
        ax.plot(PAC_GDAY, PAC_GREEN, color=GREEN_LINE, lw=0.8, zorder=2)
        ax.fill_between(PAC_RDAY, [v - 0.02 for v in PAC_RED], [v + 0.02 for v in PAC_RED],
                        color=RED_BAND, lw=0, zorder=3)
        ax.plot(PAC_RDAY, PAC_RED, color=RED_LINE, lw=0.9, zorder=4)
        ax.plot(PAC_NDAY, PAC_NAVY, color=NAVY, lw=1.1, zorder=5)
    else:
        g_lo = [v - h for v, h in zip(POL_GREEN, POL_GREEN_HW)]
        g_hi = [v + h for v, h in zip(POL_GREEN, POL_GREEN_HW)]
        ax.fill_between(POL_GDAY, g_lo, g_hi, color=GREEN_BAND, lw=0, zorder=1)
        ax.plot(POL_GDAY, POL_GREEN, color=GREEN_LINE, lw=0.8, zorder=2)
        n_lo = [v - h for v, h in zip(POL_NAVY, POL_NAVY_HW)]
        n_hi = [v + h for v, h in zip(POL_NAVY, POL_NAVY_HW)]
        ax.fill_between(POL_NDAY, n_lo, n_hi, color=BLUE_BAND, lw=0, zorder=3)
        ax.plot(POL_NDAY, POL_NAVY, color=NAVY, lw=1.1, zorder=4)
    lo, hi = B_YLIM[i]
    rng = hi - lo
    ax.set_ylim(lo - 0.04 * rng, hi + 0.04 * rng)
    ax.set_xlim(*B_XLIMS[c])
    labels = B_YTICKS[i]
    ax.set_yticks([float(v) for v in labels])
    ax.set_yticklabels(fmt(labels))
    ax.set_xticks(DAY_TICKS)
    ax.set_xticklabels([DAY_LABELS.get(d, "") if r == 1 else "" for d in DAY_TICKS])
    style(ax)
    ax.text(B_TITLE_X[i] / 200, 1 - 7 / 173, B_TITLES[i], transform=ax.transAxes,
            ha="left", va="top", fontsize=12.8, color="#1a1a1a")

# ---------------- figure texts ----------------
fig.text(509 / W, 1 - 14 / H, "a", ha="right", va="center", fontsize=13, fontweight="bold")
fig.text(509 / W, 1 - 1006 / H, "b", ha="right", va="center", fontsize=13, fontweight="bold")
fig.text(25 / W, 1 - 484 / H, "Chl concentration (mg m$^{-3}$)", rotation=90,
         ha="center", va="center", fontsize=12.8)
fig.text(25 / W, 1 - 1198 / H, "Relative Chl", rotation=90, ha="center", va="center", fontsize=12.8)
fig.text(293 / W, 1 - 982 / H, "Year", ha="center", va="center", fontsize=12.8)
fig.text(293 / W, 1 - 1418 / H, "Day of the year", ha="center", va="center", fontsize=12.8)

fig.savefig("out.png", dpi=100)
